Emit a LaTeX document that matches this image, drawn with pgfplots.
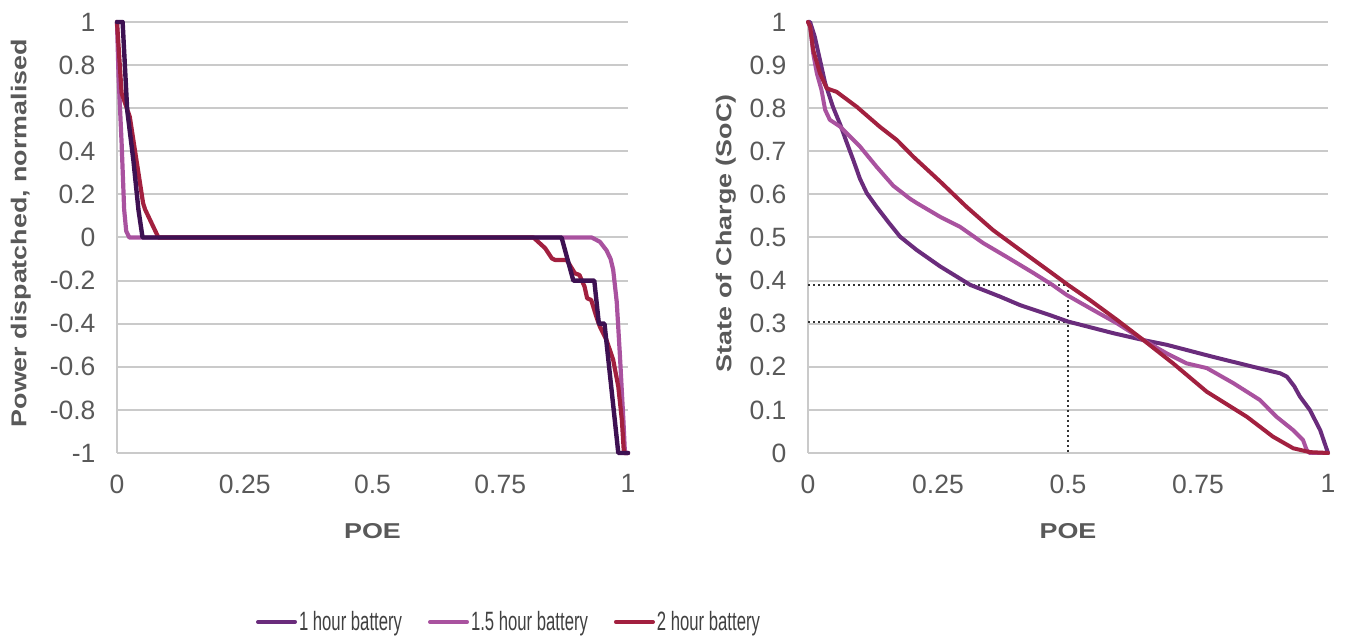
\documentclass[border=0pt]{standalone}
\usepackage{fontspec}
\setmainfont{Liberation Sans}
\usepackage{graphicx}
\usepackage{pgfplots}
\pgfplotsset{compat=1.18}
\definecolor{cDark}{HTML}{3E1152}
\definecolor{cOne}{HTML}{6A2C7C}
\definecolor{cOneFive}{HTML}{A9529F}
\definecolor{cTwo}{HTML}{A2203F}
\definecolor{gridgray}{HTML}{CACACA}
\definecolor{txtgray}{HTML}{595959}
\definecolor{legtxt}{HTML}{404040}
\definecolor{dotgray}{HTML}{333333}
\pgfplotsset{
  mystyle/.style={
    scale only axis, height=431pt,
    xmin=0, xmax=1, clip=false,
    axis line style={draw=none},
    major tick length=0pt,
    tick style={draw=none},
    ymajorgrids, grid style={gridgray, line width=2pt},
    xtick={0,0.25,0.5,0.75,1},
    xticklabels={0,0.25,0.5,0.75,1},
    tick label style={font=\fontsize{26.5}{30}\selectfont, text=txtgray},
    xticklabel style={yshift=-18pt},
    yticklabel style={xshift=-18pt},
    label style={font=\fontsize{21.5}{25}\selectfont\bfseries, text=txtgray},
    xlabel={\scalebox{1.25}[1]{POE}},
    xlabel style={at={(axis description cs:0.5,-0.181)}, anchor=center},
  },
  ln/.style={line width=#1, line join=round, line cap=round},
  dots/.style={dotgray, line width=2pt, dash pattern=on 2pt off 3pt, forget plot},
}
\begin{document}
\begin{tikzpicture}
\useasboundingbox (0,0) rectangle (1351pt,639pt);
% ---------------- left panel ----------------
\begin{axis}[mystyle, at={(117pt,186pt)}, anchor=south west, width=511pt,
  ymin=-1, ymax=1,
  ytick={-1,-0.8,-0.6,-0.4,-0.2,0,0.2,0.4,0.6,0.8,1},
  yticklabels={-1,-0.8,-0.6,-0.4,-0.2,0,0.2,0.4,0.6,0.8,1},
  ylabel={\scalebox{1.25}[1]{Power dispatched, normalised}},
  ylabel style={at={(axis description cs:-0.188,0.51)}, anchor=center},
]
\draw[gridgray, line width=2pt] (rel axis cs:0,0) -- (rel axis cs:0,1);
% 1.5 hour
\addplot[cOneFive, ln=4.2pt] coordinates {
(0,1) (0.003,0.75) (0.009,0.44) (0.014,0.13) (0.018,0.03) (0.024,0)
(0.929,0) (0.945,-0.02) (0.958,-0.06) (0.966,-0.10) (0.971,-0.15)
(0.978,-0.30) (0.984,-0.54) (0.991,-0.85) (0.994,-1) (1,-1)};
% 2 hour
\addplot[cTwo, ln=4.2pt] coordinates {
(0,1) (0.009,0.67) (0.025,0.56) (0.051,0.16) (0.055,0.13) (0.081,0)
(0.815,0) (0.838,-0.05) (0.851,-0.097) (0.857,-0.104) (0.880,-0.104)
(0.896,-0.166) (0.905,-0.174) (0.915,-0.228) (0.920,-0.282) (0.928,-0.29)
(0.938,-0.367) (0.945,-0.414) (0.958,-0.476) (0.971,-0.568) (0.981,-0.692)
(0.988,-0.847) (0.992,-1) (1,-1)};
% 1 hour
\addplot[cDark, ln=4.4pt] coordinates {
(0,1) (0.011,1) (0.020,0.59) (0.032,0.36) (0.042,0.128) (0.050,0)
(0.870,0) (0.893,-0.2) (0.934,-0.2) (0.943,-0.4) (0.954,-0.4)
(0.981,-1) (1,-1)};
\end{axis}
% ---------------- right panel ----------------
\begin{axis}[mystyle, at={(808pt,186pt)}, anchor=south west, width=520pt,
  ymin=0, ymax=1,
  ytick={0,0.1,0.2,0.3,0.4,0.5,0.6,0.7,0.8,0.9,1},
  yticklabels={0,0.1,0.2,0.3,0.4,0.5,0.6,0.7,0.8,0.9,1},
  ylabel={\scalebox{1.25}[1]{State of Charge (SoC)}},
  ylabel style={at={(axis description cs:-0.158,0.51)}, anchor=center},
  legend columns=3,
  legend style={at={(axis description cs:-0.575,-0.392)}, anchor=center,
    draw=none, fill=none,
    font=\fontsize{26.5}{30}\selectfont, text=legtxt,
    /tikz/every even column/.append style={column sep=24pt}},
  legend image code/.code={\draw[#1] (0pt,0pt) -- (37pt,0pt);},
]
\draw[gridgray, line width=2pt] (rel axis cs:0,0) -- (rel axis cs:0,1);
\addplot[dots] coordinates {(0,0.39) (0.5,0.39) (0.5,0)};
\addplot[dots] coordinates {(0,0.305) (0.5,0.305)};
% 1 hour
\addplot[cOne, ln=4pt] coordinates {
(0,1) (0.004,1.0) (0.013,0.966) (0.023,0.912) (0.033,0.858) (0.048,0.803)
(0.062,0.762) (0.074,0.722) (0.087,0.68) (0.1,0.636) (0.113,0.603)
(0.132,0.571) (0.155,0.535) (0.177,0.502) (0.209,0.471) (0.254,0.433)
(0.312,0.39) (0.369,0.363) (0.408,0.343) (0.465,0.320) (0.5,0.305)
(0.587,0.278) (0.645,0.262) (0.690,0.251) (0.779,0.223) (0.856,0.2)
(0.89,0.19) (0.908,0.185) (0.921,0.177) (0.935,0.155) (0.946,0.131)
(0.965,0.1) (0.985,0.053) (1.0,0.0)};
\addlegendentry{\scalebox{0.63}[1]{1 hour battery}}
% 1.5 hour
\addplot[cOneFive, ln=4pt] coordinates {
(0,1) (0.004,0.99) (0.01,0.927) (0.017,0.881) (0.026,0.842) (0.033,0.796)
(0.042,0.773) (0.062,0.757) (0.081,0.734) (0.1,0.711) (0.132,0.664)
(0.164,0.62) (0.196,0.59) (0.209,0.58) (0.254,0.548) (0.292,0.525)
(0.337,0.487) (0.382,0.455) (0.433,0.418) (0.47,0.39) (0.497,0.367)
(0.548,0.332) (0.594,0.301) (0.645,0.262) (0.690,0.231) (0.728,0.208)
(0.767,0.197) (0.818,0.162) (0.869,0.123) (0.901,0.084) (0.933,0.053)
(0.952,0.03) (0.959,0.007) (0.965,0) (1.0,0)};
\addlegendentry{\scalebox{0.63}[1]{1.5 hour battery}}
% 2 hour
\addplot[cTwo, ln=4pt] coordinates {
(0,1) (0.004,0.99) (0.01,0.935) (0.023,0.881) (0.036,0.846) (0.055,0.838)
(0.094,0.803) (0.138,0.757) (0.171,0.726) (0.19,0.703) (0.202,0.688)
(0.254,0.63) (0.305,0.571) (0.356,0.517) (0.408,0.471) (0.465,0.421)
(0.5,0.39) (0.542,0.355) (0.594,0.309) (0.645,0.262) (0.702,0.208)
(0.767,0.142) (0.844,0.084) (0.894,0.038) (0.933,0.011) (0.965,0.002)
(1.0,0)};
\addlegendentry{\scalebox{0.63}[1]{2 hour battery}}
\end{axis}
\end{tikzpicture}
\end{document}
